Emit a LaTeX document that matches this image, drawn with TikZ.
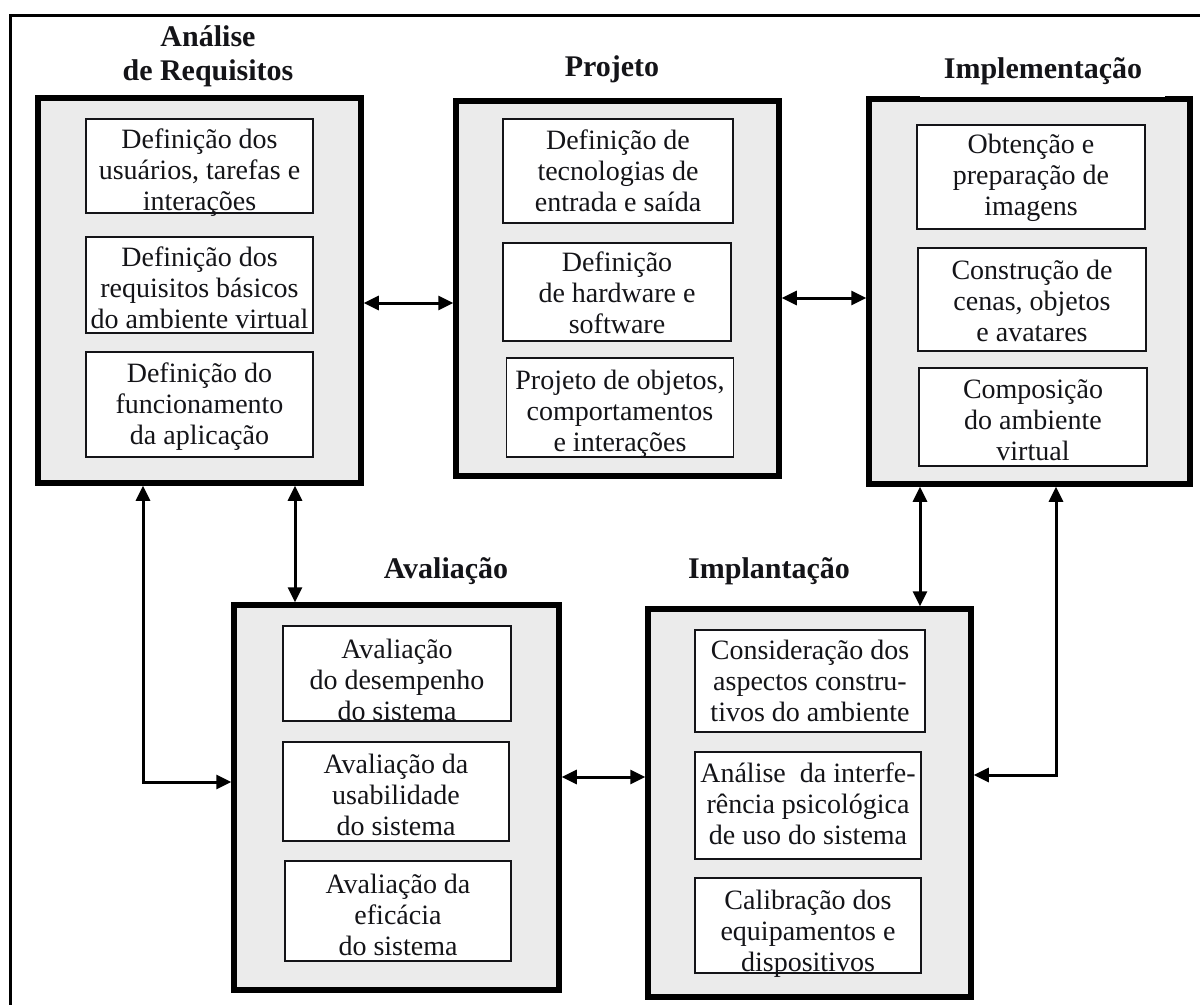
\documentclass[tikz,border=0pt]{standalone}
\usepackage{fontspec}
\setmainfont{Liberation Serif}
\usetikzlibrary{arrows.meta}
\definecolor{phasegray}{HTML}{EBEBEB}
\definecolor{inkcol}{HTML}{141418}
\begin{document}
\begin{tikzpicture}[x=1pt,y=-1pt,
  phasebox/.style={draw=black, line width=5.5pt, fill=phasegray, inner sep=0pt},
  taskbox/.style={draw=inkcol, line width=1.8pt, fill=white, inner sep=0pt},
  tasktext/.style={inner sep=0pt, align=center, text=inkcol, font=\fontsize{28}{31}\selectfont},
  phasetitle/.style={align=center, text=inkcol, font=\bfseries\fontsize{30}{34}\selectfont},
  link/.style={draw=black, line width=3pt, {Triangle[length=15pt,width=14pt]}-{Triangle[length=15pt,width=14pt]}},
  framepart/.style={draw=black, line width=3pt}]
\useasboundingbox (0,0) rectangle (1200,1005);
\fill[white] (0,0) rectangle (1200,1005);
\draw[framepart] (1200,15) -- (10,15) -- (10,1005);

% phase boxes
\node[phasebox, minimum width=323pt, minimum height=385pt] (A) at (199.5,290.5) {};
\node[phasebox, minimum width=323pt, minimum height=375pt] (B) at (617.5,288.5) {};
\node[phasebox, minimum width=321pt, minimum height=385pt] (C) at (1029.5,291.5) {};
\node[phasebox, minimum width=325pt, minimum height=385pt] (D) at (396.5,797.5) {};
\node[phasebox, minimum width=323pt, minimum height=388pt] (E) at (809.5,803) {};
\fill[white] (920,93.5) rectangle (1165,97);

% titles
\node[phasetitle] (tA) at (208,56) {Análise\\de Requisitos};
\node[phasetitle] (tB) at (612,69) {Projeto};
\node[phasetitle] (tC) at (1043,71) {Implementação};
\node[phasetitle] (tD) at (446,571) {Avaliação};
\node[phasetitle] (tE) at (769,571) {Implantação};

% task boxes
\node[taskbox, minimum width=227pt, minimum height=94pt] (a1) at (199.5,166) {};
\node[taskbox, minimum width=227pt, minimum height=96pt] (a2) at (199.5,285) {};
\node[taskbox, minimum width=227pt, minimum height=105pt] (a3) at (199.5,404.5) {};
\node[taskbox, minimum width=230pt, minimum height=104pt] (b1) at (618,171) {};
\node[taskbox, minimum width=228pt, minimum height=98pt] (b2) at (617,292) {};
\node[taskbox, minimum width=227pt, minimum height=99pt] (b3) at (620,407.5) {};
\node[taskbox, minimum width=228pt, minimum height=104pt] (c1) at (1031,177) {};
\node[taskbox, minimum width=228pt, minimum height=103pt] (c2) at (1032,299.5) {};
\node[taskbox, minimum width=228pt, minimum height=98pt] (c3) at (1033,417) {};
\node[taskbox, minimum width=228pt, minimum height=95pt] (d1) at (397,673.5) {};
\node[taskbox, minimum width=226pt, minimum height=99pt] (d2) at (396,791.5) {};
\node[taskbox, minimum width=226pt, minimum height=100pt] (d3) at (398,911) {};
\node[taskbox, minimum width=230pt, minimum height=102pt] (e1) at (810,681) {};
\node[taskbox, minimum width=226pt, minimum height=107pt] (e2) at (808,805.5) {};
\node[taskbox, minimum width=226pt, minimum height=95pt] (e3) at (808,925.5) {};

% task texts
\node[tasktext] (a1t) at ([shift={(0,7)}]a1.center) {Definição dos\\usuários, tarefas e\\interações};
\node[tasktext] (a2t) at ([shift={(0,3)}]a2.center) {Definição dos\\requisitos básicos\\do ambiente virtual};
\node[tasktext] (a3t) at ([shift={(0,2)}]a3.center) {Definição do\\funcionamento\\da aplicação};
\node[tasktext] (b1t) at ([shift={(0,0)}]b1.center) {Definição de\\tecnologias de\\entrada e saída};
\node[tasktext] (b2t) at ([shift={(0,1)}]b2.center) {Definição\\de hardware e\\software};
\node[tasktext] (b3t) at ([shift={(0,6)}]b3.center) {Projeto de objetos,\\comportamentos\\e interações};
\node[tasktext] (c1t) at ([shift={(0,1)}]c1.center) {Obtenção e\\preparação de\\imagens};
\node[tasktext] (c2t) at ([shift={(0,1)}]c2.center) {Construção de\\cenas, objetos\\e avatares};
\node[tasktext] (c3t) at ([shift={(0,3)}]c3.center) {Composição\\do ambiente\\virtual};
\node[tasktext] (d1t) at ([shift={(0,6)}]d1.center) {Avaliação\\do desempenho\\do sistema};
\node[tasktext] (d2t) at ([shift={(0,3)}]d2.center) {Avaliação da\\usabilidade\\do sistema};
\node[tasktext] (d3t) at ([shift={(0,4)}]d3.center) {Avaliação da\\eficácia\\do sistema};
\node[tasktext] (e1t) at ([shift={(0,0)}]e1.center) {Consideração dos\\aspectos constru-\\tivos do ambiente};
\node[tasktext] (e2t) at ([shift={(0,-2)}]e2.center) {Análise\ \ da interfe-\\rência psicológica\\de uso do sistema};
\node[tasktext] (e3t) at ([shift={(0,8)}]e3.center) {Calibração dos\\equipamentos e\\dispositivos};

% guide coordinates
\coordinate (yab) at (0,303);
\coordinate (ybc) at (0,298);
\coordinate (yde) at (0,777);
\coordinate (xad) at (295,0);
\coordinate (xce) at (920,0);
\coordinate (xleft) at (143,0);
\coordinate (yleft) at (0,782);
\coordinate (xright) at (1056,0);
\coordinate (yright) at (0,775);

% connectors
\draw[link] (A.east |- yab) -- (B.west |- yab);
\draw[link] (B.east |- ybc) -- (C.west |- ybc);
\draw[link] (D.east |- yde) -- (E.west |- yde);
\draw[link] (A.south -| xad) -- (D.north -| xad);
\draw[link] (C.south -| xce) -- (E.north -| xce);
\draw[link] (A.south -| xleft) |- (D.west |- yleft);
\draw[link] (C.south -| xright) |- (E.east |- yright);
\end{tikzpicture}
\end{document}
